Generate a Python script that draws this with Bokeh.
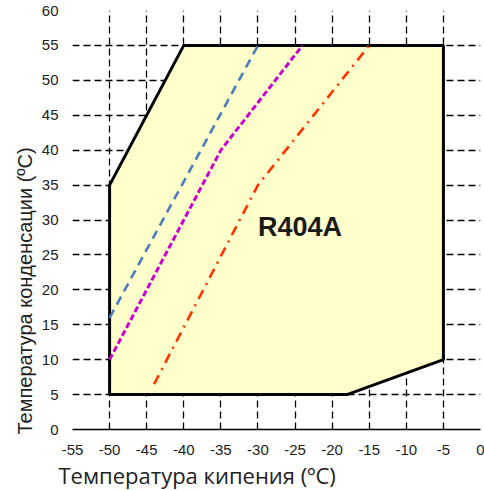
from bokeh.plotting import figure
from bokeh.models import FixedTicker, Label, Range1d, Title
from bokeh.embed import file_html
from bokeh.resources import INLINE

# ---- data ----
x_ticks = list(range(-55, 1, 5))
y_ticks = list(range(0, 61, 5))

envelope_x = [-50, -50, -40, -5, -5, -18]
envelope_y = [5, 35, 55, 55, 10, 5]

blue_x = [-50, -30]
blue_y = [16, 55]

magenta_x = [-50, -35, -24]
magenta_y = [10, 40, 55]

red_x = [-44, -30, -15]
red_y = [6.5, 35, 55]

refrigerant = "R404A"
x_title = "Температура кипения (ºC)"
y_title = "Температура конденсации  (ºC)"

# ---- figure ----
p = figure(width=484, height=490, output_backend="svg", toolbar_location=None,
           x_range=Range1d(-55, 0), y_range=Range1d(0, 60),
           min_border_left=72, min_border_right=4, min_border_top=10, min_border_bottom=60)
p.outline_line_color = None
p.background_fill_color = "white"

tick_font = "Liberation Sans"
for ax in (p.xaxis[0], p.yaxis[0]):
    ax.major_tick_in = 0
    ax.major_tick_out = 0
    ax.minor_tick_in = 0
    ax.minor_tick_out = 0
    ax.major_label_text_font = tick_font
    ax.major_label_text_font_size = "15px"
    ax.major_label_text_color = "#222222"

p.xaxis.ticker = FixedTicker(ticks=x_ticks)
p.yaxis.ticker = FixedTicker(ticks=y_ticks)
p.xaxis.major_label_overrides = {t: str(t) for t in x_ticks}
p.yaxis.major_label_overrides = {t: str(t) for t in y_ticks}
p.xaxis.axis_line_color = "black"
p.xaxis.axis_line_width = 1.6
p.xaxis.major_label_standoff = 15
p.yaxis.axis_line_color = None
p.yaxis.major_label_standoff = 14

for g in (p.xgrid[0], p.ygrid[0]):
    g.grid_line_color = "black"
    g.grid_line_width = 1.3
    g.grid_line_dash = "7 4"
p.xgrid.ticker = FixedTicker(ticks=x_ticks)
p.ygrid.ticker = FixedTicker(ticks=y_ticks)

# envelope
p.patch(envelope_x, envelope_y, fill_color="#FFFFCC", line_color="black", line_width=3)

# lines
p.line(blue_x, blue_y, line_color="#4A7EBB", line_width=2.6, line_dash="9 6")
p.line(magenta_x, magenta_y, line_color="#CC00CC", line_width=3, line_dash="6 3")
p.line(red_x, red_y, line_color="#FF3300", line_width=2.6, line_dash="10 6 2 6")

p.add_layout(Label(x=-30, y=29.0, text=refrigerant, text_font="Liberation Sans",
                   text_font_style="bold", text_font_size="27px", text_color="#1a1a1a",
                   text_align="left", text_baseline="middle"))

p.add_layout(Title(text=y_title, align="left", offset=-5, standoff=6,
                   text_font="Liberation Sans", text_font_size="20px",
                   text_font_style="normal", text_color="#222222"), "left")

p.add_layout(Title(text=x_title, align="left", offset=-14, standoff=1,
                   text_font="Open Sans", text_font_size="22px",
                   text_font_style="normal", text_color="#222222"), "below")

open("out.html", "w").write(file_html(p, INLINE))
